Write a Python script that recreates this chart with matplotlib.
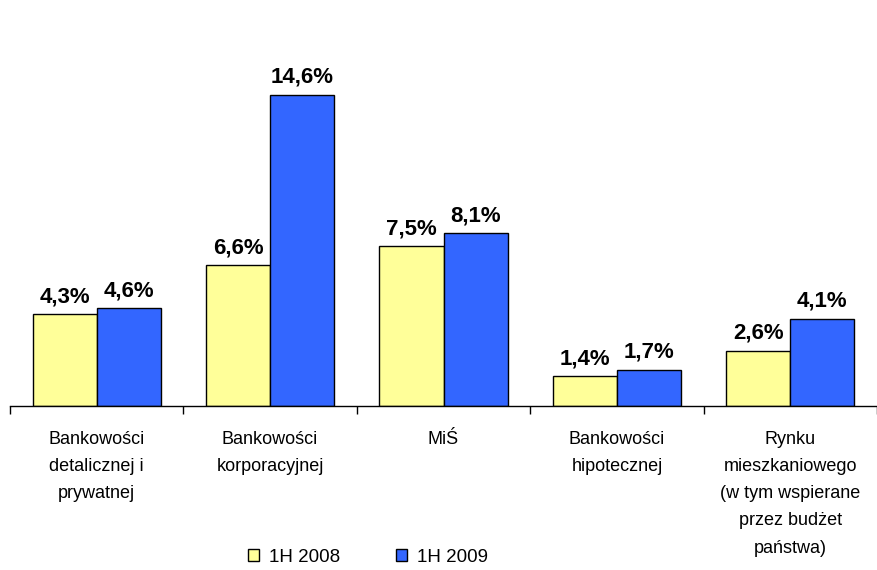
import matplotlib
matplotlib.use("Agg")
import matplotlib.pyplot as plt
import numpy as np

categories = [
    "Bankowości\ndetalicznej i\nprywatnej",
    "Bankowości\nkorporacyjnej",
    "MiŚ",
    "Bankowości\nhipotecznej",
    "Rynku\nmieszkaniowego\n(w tym wspierane\nprzez budżet\npaństwa)",
]
series_names = ["1H 2008", "1H 2009"]
vals_2008 = [4.3, 6.6, 7.5, 1.4, 2.6]
vals_2009 = [4.6, 14.6, 8.1, 1.7, 4.1]
colors = ["#FFFF99", "#3366FF"]

plt.rcParams["font.family"] = ["Liberation Sans", "DejaVu Sans"]

fig = plt.figure(figsize=(8.77, 5.7), dpi=100)
ax = fig.add_axes([10 / 877, 164 / 570, 867 / 877, 341 / 570])

x = np.arange(len(categories))
w = 0.37
bars = []
for i, (vals, col, name) in enumerate(zip([vals_2008, vals_2009], colors, series_names)):
    b = ax.bar(x + (i - 0.5) * w, vals, w, color=col, edgecolor="black",
               linewidth=1.0, label=name)
    bars.append(b)
    for xi, v in zip(x + (i - 0.5) * w, vals):
        ax.annotate(f"{v:.1f}%".replace(".", ","), (xi, v), xytext=(0, 5),
                    textcoords="offset points", ha="center", va="bottom",
                    fontsize=16, fontweight="bold")

ax.set_xlim(-0.5, len(categories) - 0.5)
ax.set_ylim(0, 16)
for s in ["top", "right", "left"]:
    ax.spines[s].set_visible(False)
ax.spines["bottom"].set_linewidth(1.0)
ax.set_yticks([])
ax.set_xticks(np.arange(len(categories) + 1) - 0.5)
ax.set_xticklabels([])
ax.tick_params(axis="x", direction="out", length=6, width=1)
ax.set_xticks(x, minor=True)
ax.set_xticklabels(categories, minor=True, fontsize=13, linespacing=1.78,
                   va="top")
ax.tick_params(axis="x", which="minor", length=0, pad=18)

fig.legend(handles=bars, labels=series_names, loc="center",
           bbox_to_anchor=(368 / 877, 1 - 557 / 570), ncol=2, frameon=False,
           fontsize=13.5, handlelength=0.6, handleheight=0.6, columnspacing=3.0,
           handletextpad=0.5)

fig.savefig("out.png", dpi=100)
